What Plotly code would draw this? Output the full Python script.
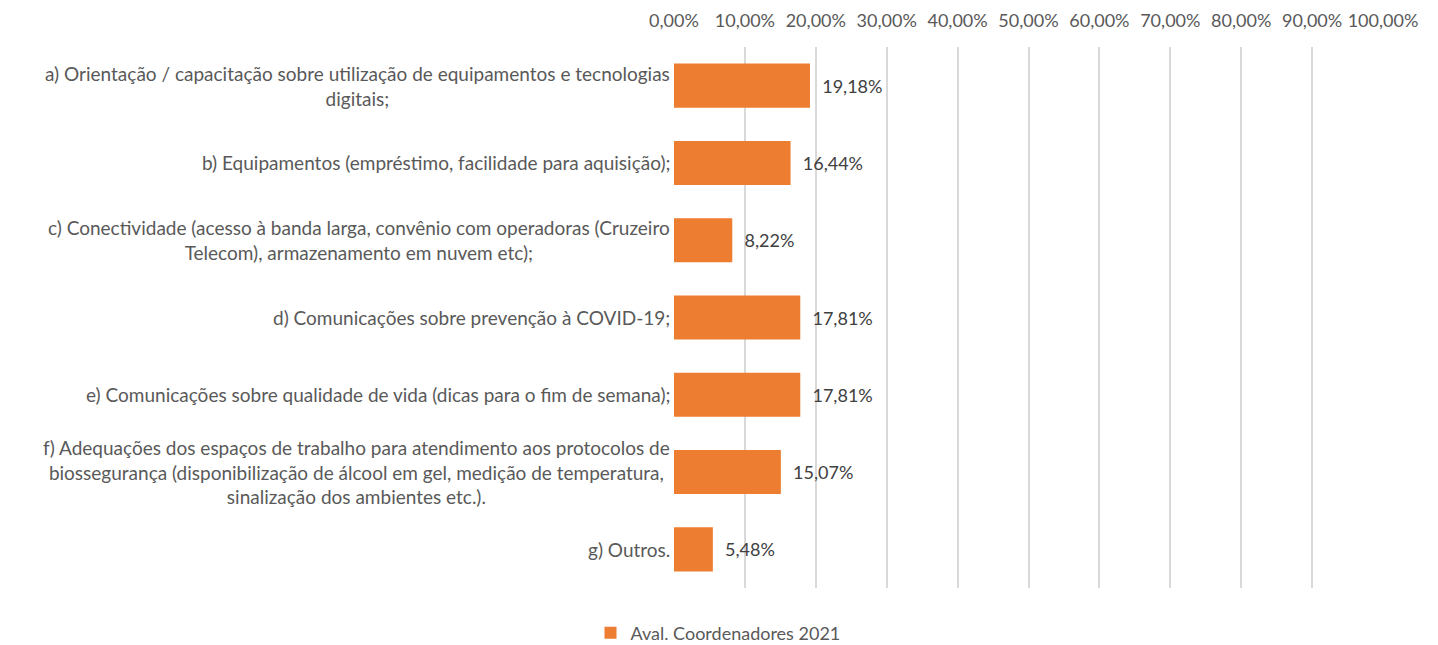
import plotly.graph_objects as go

categories = [
    "a) Orientação / capacitação sobre utilização de equipamentos e tecnologias<br>digitais;",
    "b) Equipamentos (empréstimo, facilidade para aquisição);",
    "c) Conectividade (acesso à banda larga, convênio com operadoras (Cruzeiro<br>Telecom), armazenamento em nuvem etc);",
    "d) Comunicações sobre prevenção à COVID-19;",
    "e) Comunicações sobre qualidade de vida (dicas para o fim de semana);",
    "f) Adequações dos espaços de trabalho para atendimento aos protocolos de<br>biossegurança (disponibilização de álcool em gel, medição de temperatura,<br>sinalização dos ambientes etc.).",
    "g) Outros.",
]
values = [0.1918, 0.1644, 0.0822, 0.1781, 0.1781, 0.1507, 0.0548]
series_name = "Aval. Coordenadores 2021"
tick_vals = [0, 0.1, 0.2, 0.3, 0.4, 0.5, 0.6, 0.7, 0.8, 0.9, 1.0]

FONT = "Lato"
TXT = "#595959"

fig = go.Figure()
fig.add_trace(go.Bar(
    x=values, y=categories, orientation="h", name=series_name,
    marker=dict(color="#ED7D31", line=dict(width=0)),
    width=0.57,
    texttemplate="\u00a0\u00a0%{x:.2%}", textposition="outside",
    textfont=dict(family=FONT, size=18, color="#404040"),
    cliponaxis=False,
    showlegend=True,
))

for c in categories:
    fig.add_annotation(
        x=0, xref="paper", y=c, yref="y", xanchor="right", xshift=-2,
        text=c, showarrow=False, align="center",
        font=dict(family=FONT, size=19, color=TXT),
    )

# page body has an 8px margin, so the figure is sized to fit the 1438x645 window
fig.update_layout(
    width=1430, height=637,
    margin=dict(l=666, r=55, t=39, b=57, autoexpand=False),
    paper_bgcolor="white", plot_bgcolor="white",
    separators=",.",
    font=dict(family=FONT, size=18, color=TXT),
    xaxis=dict(
        side="top", range=[0, 1], tickvals=tick_vals, tickformat=".2%",
        showgrid=True, gridcolor="#d9d9d9", gridwidth=1.5,
        zeroline=False, showline=False, ticks="", automargin=False,
        ticklabelstandoff=15,
        tickfont=dict(family=FONT, size=18, color=TXT),
        fixedrange=True,
    ),
    yaxis=dict(
        autorange="reversed", showticklabels=False, showgrid=False,
        zeroline=False, showline=False, ticks="", automargin=False,
    ),
    legend=dict(
        orientation="h", x=0.5 - 5 / 1430, xanchor="center", xref="container",
        y=-45 / 541, yanchor="middle", yref="paper",
        font=dict(family=FONT, size=18, color=TXT),
    ),
    bargap=0.43,
)

fig.write_html("out.html")
